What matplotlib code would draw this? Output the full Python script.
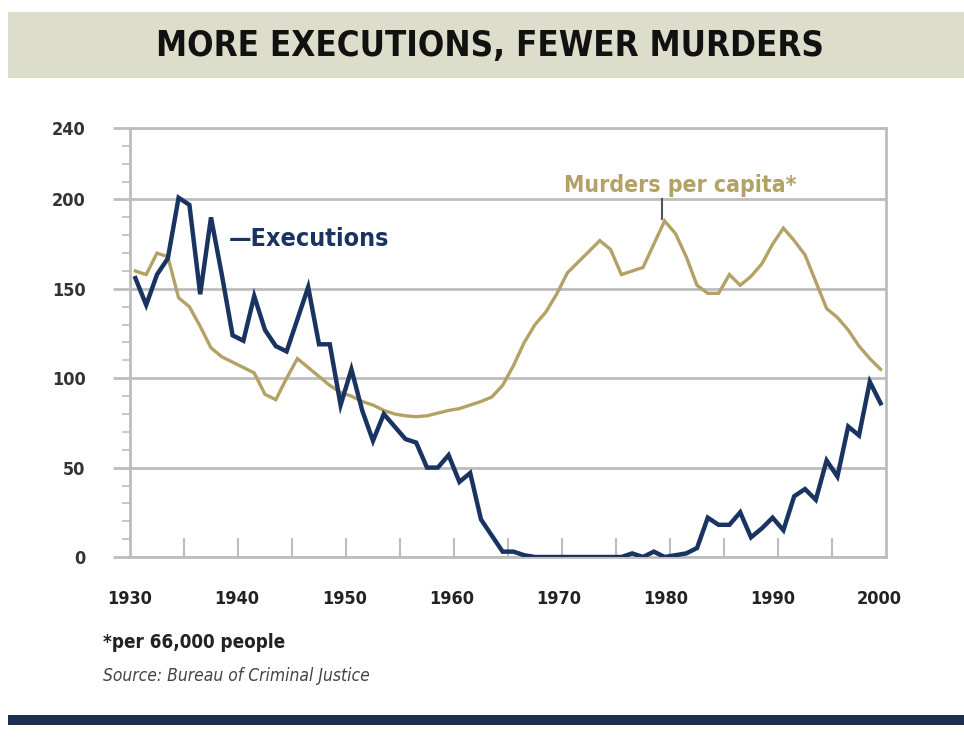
import matplotlib.pyplot as plt
import matplotlib.patches as mpatches
from matplotlib import font_manager
import numpy as np

years = np.arange(1931, 2001)

executions = [156, 141, 158, 167, 201, 197, 147, 190, 158, 124,
              121, 146, 127, 118, 115, 133, 151, 119, 119, 85,
              105, 82, 65, 80, 73, 66, 64, 50, 50, 57,
              42, 47, 21, 12, 3, 3, 1, 0, 0, 0,
              0, 0, 0, 0, 0, 0, 2, 0, 3, 0,
              1, 2, 5, 22, 18, 18, 25, 11, 16, 22,
              15, 34, 38, 32, 54, 45, 73, 68, 98, 86]

murders = [160, 158, 170, 168, 145, 140, 129, 117, 112, 109,
           106, 103, 91, 88, 100, 111, 106, 101, 96, 92,
           90, 87, 85, 82, 80, 79, 78.5, 79, 80.5, 82,
           83, 85, 87, 89.5, 96, 107, 120, 130, 137, 147,
           159, 165, 171, 177, 172, 158, 160, 162, 175, 188,
           181, 168, 152, 147.5, 147.5, 158, 152, 157, 164, 175,
           184, 177, 169, 154, 139, 134, 127, 118, 111, 105]

year_labels = ['1930', '1940', '1950', '1960', '1970', '1980', '1990', '2000']
y_ticks = [0, 50, 100, 150, 200, 240]

navy = '#1a3461'
tan = '#b3a266'
grid_col = '#bdbdbd'

names = {f.name for f in font_manager.fontManager.ttflist}
narrow = 'Liberation Sans Narrow' if 'Liberation Sans Narrow' in names else 'DejaVu Sans'
stretch = 'normal' if narrow == 'Liberation Sans Narrow' else 'condensed'

fig = plt.figure(figsize=(9.64, 7.47), dpi=100)
fig.patch.set_facecolor('white')

# title band and bottom rule
fig.patches.append(mpatches.Rectangle((8 / 964, 669 / 747), 1, 66 / 747,
                                      transform=fig.transFigure,
                                      facecolor='#dcddcb', edgecolor='none'))
fig.patches.append(mpatches.Rectangle((8 / 964, 22 / 747), 1, 10 / 747,
                                      transform=fig.transFigure,
                                      facecolor='#1c2f4f', edgecolor='none'))
fig.text(0.508, 0.938, 'MORE EXECUTIONS, FEWER MURDERS', ha='center', va='center',
         fontsize=25, fontweight='heavy', family=narrow, fontstretch=stretch,
         color='#111111')

ax = fig.add_axes([130 / 964, 190 / 747, 756 / 964, 429 / 747])
ax.plot(years, murders, color=tan, lw=2.4, solid_joinstyle='miter', zorder=3)
ax.plot(years, executions, color=navy, lw=3.2, solid_joinstyle='miter', zorder=4)

ax.set_xlim(1930.5, 2000.5)
ax.set_ylim(0, 240)

ax.set_yticks(y_ticks)
ax.set_yticks(np.arange(0, 241, 10), minor=True)
ax.yaxis.grid(True, color=grid_col, lw=2)
ax.tick_params(axis='y', which='major', length=12, width=2, color=grid_col,
               labelsize=13, labelcolor='#333333', pad=20)
ax.tick_params(axis='y', which='minor', length=6, width=1.2, color=grid_col)
for lab in ax.get_yticklabels():
    lab.set_fontweight('bold')
    lab.set_family(narrow)
    lab.set_fontstretch(stretch)

ax.set_xticks(np.linspace(1930.5, 1999.9, len(year_labels)))
ax.set_xticklabels(year_labels, fontsize=13, fontweight='bold', color='#222222',
                   family=narrow, fontstretch=stretch)
ax.set_xticks(np.arange(1935.5, 2000, 5), minor=True)
ax.tick_params(axis='x', which='major', length=0, pad=24)
ax.tick_params(axis='x', which='minor', direction='in', length=14, width=1.5,
               color=grid_col)

for side in ['left', 'bottom', 'right', 'top']:
    ax.spines[side].set_color(grid_col)
    ax.spines[side].set_linewidth(2)

ax.text(1981.4, 208, 'Murders per capita*', color=tan, fontsize=16.5,
        fontweight='bold', ha='center', va='center', family=narrow,
        fontstretch=stretch)
ax.plot([1979.8, 1979.8], [189, 200], color='#555555', lw=1.5)
ax.text(1939.6, 178, '\u2014Executions', color=navy, fontsize=18, fontweight='bold',
        ha='left', va='center', family=narrow, fontstretch=stretch)

fig.text(103 / 964, 1 - 642 / 747, '*per 66,000 people', fontsize=13.5,
         fontweight='bold', color='#222222', va='center', family=narrow,
         fontstretch=stretch)
fig.text(103 / 964, 1 - 676 / 747, 'Source: Bureau of Criminal Justice', fontsize=12.5,
         style='italic', color='#444444', va='center', family=narrow,
         fontstretch=stretch)

fig.savefig('out.png', dpi=100)
